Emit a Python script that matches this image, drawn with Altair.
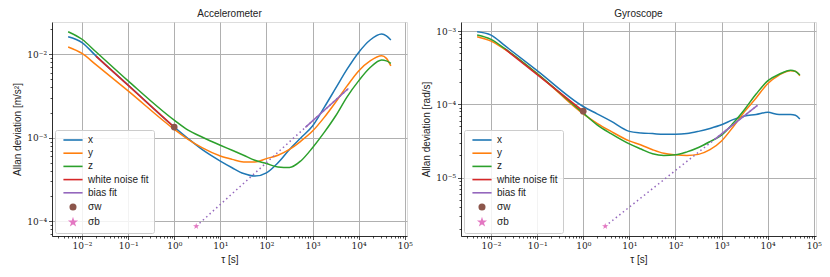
import altair as alt
import pandas as pd

# ---------------- data ----------------
TAU = [0.005, 0.01, 0.02, 0.1, 1, 2, 4, 10, 18, 32, 56, 100, 178, 316, 562,
       1000, 1778, 3162, 5623, 10000, 17783, 31623, 40000, 50000]

ACC_X = [1.62e-2, 1.38e-2, 9.55e-3, 4.27e-3, 1.34e-3, 9.77e-4, 7.24e-4, 5.25e-4,
         4.37e-4, 3.72e-4, 3.47e-4, 3.80e-4, 5.01e-4, 7.24e-4, 1.0e-3, 1.38e-3,
         2.29e-3, 3.89e-3, 6.61e-3, 1.05e-2, 1.48e-2, 1.74e-2, 1.66e-2, 1.48e-2]
ACC_Y = [1.22e-2, 1.02e-2, 7.50e-3, 3.63e-3, 1.26e-3, 9.55e-4, 7.59e-4, 6.03e-4,
         5.50e-4, 5.13e-4, 5.13e-4, 5.62e-4, 6.17e-4, 7.24e-4, 9.12e-4, 1.20e-3,
         1.74e-3, 2.66e-3, 4.17e-3, 6.31e-3, 8.32e-3, 9.55e-3, 8.91e-3, 7.24e-3]
ACC_Z = [1.86e-2, 1.51e-2, 1.07e-2, 4.79e-3, 1.62e-3, 1.23e-3, 1.02e-3, 8.13e-4,
         7.08e-4, 6.17e-4, 5.37e-4, 4.90e-4, 4.47e-4, 4.40e-4, 5.30e-4, 7.59e-4,
         1.15e-3, 1.82e-3, 3.09e-3, 4.79e-3, 6.92e-3, 8.51e-3, 8.32e-3, 7.76e-3]

GYR_X = [9.77e-4, 8.81e-4, 6.31e-4, 2.88e-4, 9.33e-5, 7.41e-5, 5.89e-5, 4.27e-5,
         4.07e-5, 3.98e-5, 3.89e-5, 3.89e-5, 3.98e-5, 4.27e-5, 4.68e-5, 5.25e-5,
         6.17e-5, 6.92e-5, 7.24e-5, 7.76e-5, 7.24e-5, 7.24e-5, 7.08e-5, 6.31e-5]
GYR_Y = [8.38e-4, 7.29e-4, 5.62e-4, 2.63e-4, 7.41e-5, 5.50e-5, 4.27e-5, 3.16e-5,
         2.78e-5, 2.40e-5, 2.14e-5, 2.04e-5, 2.00e-5, 2.07e-5, 2.40e-5, 3.16e-5,
         4.90e-5, 7.94e-5, 1.22e-4, 1.91e-4, 2.51e-4, 2.88e-4, 2.82e-4, 2.45e-4]
GYR_Z = [8.81e-4, 7.69e-4, 5.75e-4, 2.63e-4, 7.59e-5, 5.25e-5, 3.98e-5, 2.88e-5,
         2.45e-5, 2.11e-5, 2.00e-5, 2.04e-5, 2.24e-5, 2.57e-5, 3.09e-5, 3.80e-5,
         5.50e-5, 8.51e-5, 1.38e-4, 2.09e-4, 2.57e-4, 2.92e-4, 2.82e-4, 2.51e-4]

WN_TAU = [0.02, 1]
ACC_WN = [9.48e-3, 1.34e-3]
GYR_WN = [5.69e-4, 8.05e-5]

BIAS_TAU = [3, 6000]
BIAS_SOLID_TAU = [700, 6000]
ACC_BIAS = [8.7e-5, 3.89e-3]
ACC_BIAS_SOLID = [1.33e-3, 3.89e-3]
GYR_BIAS = [2.16e-6, 9.66e-5]
GYR_BIAS_SOLID = [3.30e-5, 9.66e-5]

SIGMA_W_TAU = 1
SIGMA_B_TAU = 3
ACC_SIGMA_W = 1.34e-3
ACC_SIGMA_B = 8.7e-5
GYR_SIGMA_W = 8.05e-5
GYR_SIGMA_B = 2.16e-6

SERIES = ["x", "y", "z", "white noise fit", "bias fit", "σw", "σb"]
COLORS = ["#1f77b4", "#ff7f0e", "#2ca02c", "#d62728", "#9467bd", "#8c564b", "#e377c2"]
LINE = "M-3.5,0H3.5"
STAR = ("M0,-1L0.2245,-0.309L0.951,-0.309L0.363,0.118L0.588,0.809L0,0.382"
        "L-0.588,0.809L-0.363,0.118L-0.951,-0.309L-0.2245,-0.309Z")
SHAPES = [LINE, LINE, LINE, LINE, LINE, "circle", STAR]

XDOM = [2.233e-3, 1.12e5]
ACC_YDOM = [6.65e-5, 2.43e-2]
GYR_YDOM = [1.59e-6, 1.33e-3]


def log_ticks(lo, hi):
    vals = []
    for e in range(-8, 7):
        for m in range(1, 10):
            v = float(f"{m}e{e}")
            if lo <= v <= hi:
                vals.append(v)
    return vals


MAJOR_TEST = "abs(log(datum.value)/LN10 - round(log(datum.value)/LN10)) < 0.001"
LABEL_EXPR = ("(abs(log(datum.value)/LN10 - round(log(datum.value)/LN10)) < 0.001) ? "
              "'10' + ['⁻⁶','⁻⁵','⁻⁴','⁻³','⁻²','⁻¹','⁰','¹','²','³','⁴','⁵','⁶']"
              "[round(log(datum.value)/LN10)+6] : ''")

SANS = "Liberation Sans"
SERIF = "DejaVu Serif"


def make_axis(values, title, title_pad):
    return alt.Axis(
        values=values, title=title, labelExpr=LABEL_EXPR,
        labelFont=SERIF, labelFontSize=9, labelColor="#222",
        titleFont=SANS, titleFontSize=10, titleFontWeight="normal", titleColor="#222",
        titlePadding=title_pad, labelPadding=2, labelOverlap=False, labelFlush=False,
        tickSize={"condition": {"test": MAJOR_TEST, "value": 3.5}, "value": 2},
        tickColor="#222", tickWidth=0.8,
        gridOpacity={"condition": {"test": MAJOR_TEST, "value": 1}, "value": 0},
        gridColor="#b0b0b0", gridWidth=1,
        domainColor="#000", domainWidth=0.8,
    )


def panel(title, ytitle, ydom, cx, cy, cz, wn, bias, bias_solid, sw, sb):
    xsc = alt.Scale(type="log", domain=XDOM, nice=False)
    ysc = alt.Scale(type="log", domain=ydom, nice=False)
    csc = alt.Scale(domain=SERIES, range=COLORS)
    ssc = alt.Scale(domain=SERIES, range=SHAPES)
    stsc = alt.Scale(domain=SERIES, range=COLORS)

    curves = pd.DataFrame({
        "tau": TAU * 3,
        "sigma": cx + cy + cz,
        "series": ["x"] * len(TAU) + ["y"] * len(TAU) + ["z"] * len(TAU),
    })
    wn_df = pd.DataFrame({"tau": WN_TAU, "sigma": wn, "series": "white noise fit"})
    bias_df = pd.DataFrame({"tau": BIAS_TAU, "sigma": bias, "series": "bias fit"})
    bias_s_df = pd.DataFrame({"tau": BIAS_SOLID_TAU, "sigma": bias_solid, "series": "bias fit"})
    pts = pd.DataFrame({"tau": [SIGMA_W_TAU, SIGMA_B_TAU], "sigma": [sw, sb],
                        "series": ["σw", "σb"]})
    leg_df = pd.DataFrame({"tau": [SIGMA_W_TAU] * len(SERIES),
                           "sigma": [sw] * len(SERIES), "series": SERIES})

    leg = alt.Legend(
        title=None, orient="bottom-left", offset=3, labelFont=SANS, labelFontSize=10,
        labelColor="#222", symbolSize=30, symbolStrokeWidth=1.6, symbolOpacity=1,
        symbolOffset=8, labelOffset=10, rowPadding=3.2, padding=5,
        fillColor="rgba(255,255,255,0.85)", strokeColor="#cccccc", cornerRadius=2,
    )
    xe = alt.X("tau:Q", scale=xsc, axis=make_axis(log_ticks(*XDOM), "τ [s]", 4))
    ye = alt.Y("sigma:Q", scale=ysc, axis=make_axis(log_ticks(*ydom), ytitle, 4))
    col = alt.Color("series:N", scale=csc, legend=leg)
    shp = alt.Shape("series:N", scale=ssc, legend=leg)
    stk = alt.Stroke("series:N", scale=stsc, legend=leg)

    lines = alt.Chart(curves).mark_line(strokeWidth=1.5, interpolate="monotone").encode(
        x=xe, y=ye, color=col)
    wn_line = alt.Chart(wn_df).mark_line(strokeWidth=1.5).encode(x=xe, y=ye, color=col)
    bias_dot = alt.Chart(bias_df).mark_line(strokeWidth=1.5, strokeDash=[1.5, 3]).encode(
        x=xe, y=ye, color=col)
    bias_line = alt.Chart(bias_s_df).mark_line(strokeWidth=1.5).encode(x=xe, y=ye, color=col)
    points = alt.Chart(pts).mark_point(filled=True, size=45, opacity=1).encode(
        x=xe, y=ye, color=col, shape=shp)
    legend_layer = alt.Chart(leg_df).mark_point(filled=True, opacity=0).encode(
        x=xe, y=ye, color=col, stroke=stk, shape=shp)
    return alt.layer(lines, wn_line, bias_dot, bias_line, points, legend_layer).properties(
        width=355, height=214,
        title=alt.TitleParams(title, font=SANS, fontSize=10, fontWeight="normal",
                              color="#222", offset=3),
    )


left = panel("Accelerometer", "Allan deviation [m/s²]", ACC_YDOM, ACC_X, ACC_Y, ACC_Z,
             ACC_WN, ACC_BIAS, ACC_BIAS_SOLID, ACC_SIGMA_W, ACC_SIGMA_B)
right = panel("Gyroscope", "Allan deviation [rad/s]", GYR_YDOM, GYR_X, GYR_Y, GYR_Z,
              GYR_WN, GYR_BIAS, GYR_BIAS_SOLID, GYR_SIGMA_W, GYR_SIGMA_B)

chart = alt.hconcat(left, right, spacing=8).resolve_scale(
    color="independent", stroke="independent", shape="independent"
).properties(
    padding={"left": 4, "top": 0, "right": 0, "bottom": 0}
).configure_view(stroke="#000", strokeWidth=0.8).configure(background="white")

chart.save("out.html", embed_options={"renderer": "svg", "actions": False})
